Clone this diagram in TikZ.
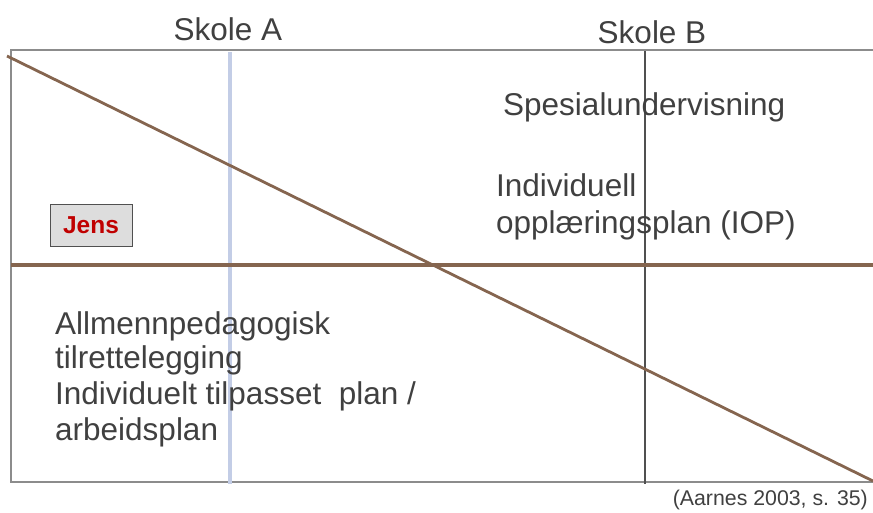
\documentclass[tikz,border=0pt]{standalone}
\usepackage{fontspec}
\setmainfont{Liberation Sans}
\definecolor{txt}{HTML}{404040}
\definecolor{brn}{HTML}{85654F}
\definecolor{frame}{HTML}{8C8C8C}
\definecolor{lblue}{HTML}{C3CDE6}
\definecolor{dgray}{HTML}{505050}
\definecolor{jensred}{HTML}{C00000}
\definecolor{jensfill}{HTML}{DDDDDD}
\tikzset{
  lbl/.style={font=\fontsize{31.5}{36}\selectfont, text=txt, inner sep=0pt},
  cite/.style={font=\fontsize{21.3}{25}\selectfont, text=txt, inner sep=0pt},
  jensbox/.style={draw=dgray, line width=1pt, fill=jensfill, minimum width=82pt, minimum height=42pt, inner sep=0pt,
    font=\fontsize{24.5}{28}\selectfont\bfseries, text=jensred},
}
\begin{document}
\begin{tikzpicture}[x=1pt,y=-1pt]
\useasboundingbox (0,0) rectangle (873,512);
% frame
\coordinate (tl) at (11,50);
\coordinate (tr) at (880,50);
\coordinate (bl) at (11,482);
\coordinate (br) at (880,482);
\draw[frame, line width=1.5pt] (tr) -- (tl) -- (bl) -- (br);
% verticals
\coordinate (va1) at (230,52);
\coordinate (va2) at (230,484);
\draw[lblue, line width=3.5pt] (va1) -- (va2);
\coordinate (vb1) at (645,51);
\coordinate (vb2) at (645,484);
\draw[dgray, line width=2.5pt] (vb1) -- (vb2);
% horizontal
\coordinate (h1) at (11,265);
\coordinate (h2) at (873,265);
\draw[brn, line width=4pt] (h1) -- (h2);
% diagonal
\coordinate (d1) at (7,56);
\coordinate (d2) at (873,481);
\draw[brn, line width=2.8pt] (d1) -- (d2);
% labels
\node[lbl, anchor=base] (skA) at (228,40) {Skole A};
\node[lbl, anchor=base] (skB) at (652,43) {Skole B};
\node[lbl, anchor=base west] (spes) at (503,115) {Spesialundervisning};
\node[lbl, anchor=base west] (ind1) at (496,196) {Individuell};
\node[lbl, anchor=base west] (ind2) at (496,233) {opplæringsplan (IOP)};
\node[jensbox] (jens) at (91,225) {Jens};
\node[lbl, anchor=base west] (all1) at (55,334) {Allmennpedagogisk};
\node[lbl, anchor=base west] (all2) at (55,368) {tilrettelegging};
\node[lbl, anchor=base west] (all3) at (55,404) {Individuelt tilpasset\ \ plan /};
\node[lbl, anchor=base west] (all4) at (55,440) {arbeidsplan};
\node[cite, anchor=base east] (cit) at (868,505) {(Aarnes 2003, s. 35)};
\end{tikzpicture}
\end{document}
